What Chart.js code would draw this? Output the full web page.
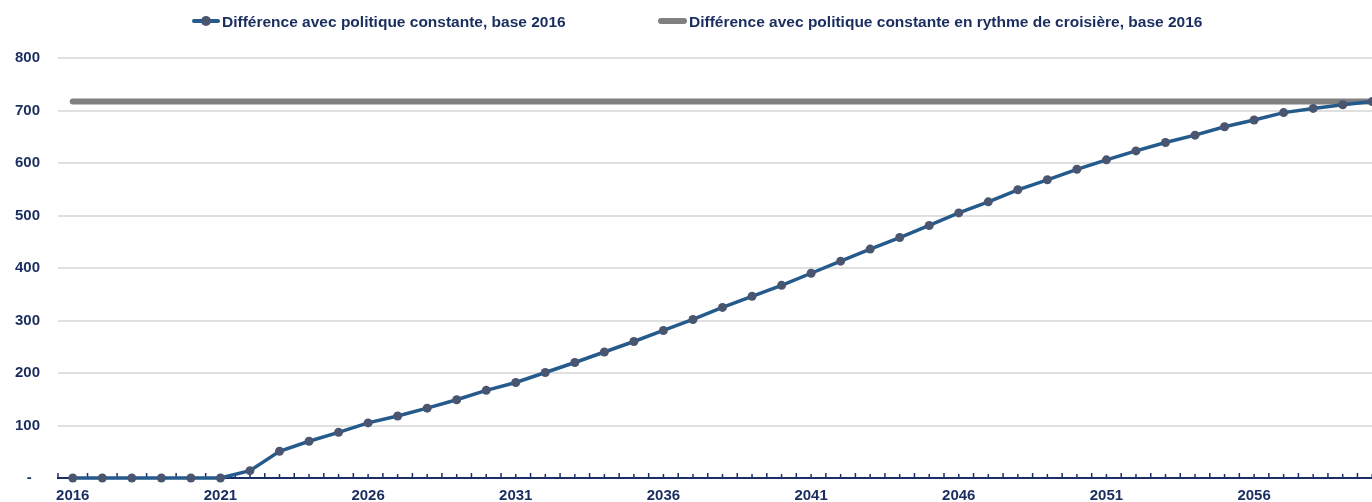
<!DOCTYPE html>
<html>
<head>
<meta charset="utf-8">
<script src="https://cdn.jsdelivr.net/npm/chart.js@4.4.1/dist/chart.umd.min.js"></script>
<style>
  html, body { margin: 0; padding: 0; overflow: hidden; background: #ffffff; width: 1372px; height: 502px; }
  #wrap { position: absolute; left: 0; top: 0; width: 1400px; height: 520px; }
  .leg { position: absolute; top: 13px; font: bold 15.5px "Liberation Sans", Arial, sans-serif; color: #1a2d5f; white-space: nowrap; line-height: 18px; }
  .sample { position: absolute; }
</style>
</head>
<body>
<div id="wrap"><canvas id="c"></canvas></div>
<div class="sample" style="left:192px; top:19px; width:28px; height:3.5px; background:#255a8c; border-radius:2px;"></div>
<div class="sample" style="left:201px; top:16px; width:10px; height:10px; background:#4a5670; border-radius:50%;"></div>
<div class="leg" style="left:222px;">Différence avec politique constante, base 2016</div>
<div class="sample" style="left:658px; top:17.5px; width:29px; height:6px; background:#808080; border-radius:3px;"></div>
<div class="leg" style="left:689px;">Différence avec politique constante en rythme de croisière, base 2016</div>
<script>
const years = [2016, 2017, 2018, 2019, 2020, 2021, 2022, 2023, 2024, 2025,
               2026, 2027, 2028, 2029, 2030, 2031, 2032, 2033, 2034, 2035,
               2036, 2037, 2038, 2039, 2040, 2041, 2042, 2043, 2044, 2045,
               2046, 2047, 2048, 2049, 2050, 2051, 2052, 2053, 2054, 2055,
               2056, 2057, 2058, 2059, 2060];
const diffConstante = [0, 0, 0, 0, 0, 0, 14, 51, 70, 87,
                       105, 118, 133, 149, 167, 182, 201, 220, 240, 260,
                       281, 302, 325, 346, 367, 390, 413, 436, 458, 481,
                       505, 526, 549, 568, 588, 606, 623, 639, 653, 669,
                       682, 696, 704, 711, 717];
const diffCroisiere = [717, 717, 717, 717, 717, 717, 717, 717, 717, 717,
                       717, 717, 717, 717, 717, 717, 717, 717, 717, 717,
                       717, 717, 717, 717, 717, 717, 717, 717, 717, 717,
                       717, 717, 717, 717, 717, 717, 717, 717, 717, 717,
                       717, 717, 717, 717, 717];
const xTickLabels = ['2016', '2021', '2026', '2031', '2036', '2041', '2046', '2051', '2056'];
const yTickLabels = { 0: '-  ', 100: '100', 200: '200', 300: '300', 400: '400', 500: '500', 600: '600', 700: '700', 800: '800' };
const seriesNames = ['Différence avec politique constante, base 2016',
                     'Différence avec politique constante en rythme de croisière, base 2016'];

const navy = '#1a2d5f';
const axisNavy = '#1b2f66';
const fontFamily = '"Liberation Sans", Arial, sans-serif';

const tickMarks = {
  id: 'tickMarks',
  beforeDatasetsDraw(chart) {
    const xs = chart.scales.x;
    const ctx = chart.ctx;
    const yAxis = chart.chartArea.bottom;
    const step = xs.getPixelForValue(1) - xs.getPixelForValue(0);
    ctx.save();
    ctx.strokeStyle = axisNavy;
    ctx.lineWidth = 1.5;
    ctx.beginPath();
    for (let i = 0; i < years.length; i++) {
      const c = xs.getPixelForValue(i);
      const b = c - step / 2;
      ctx.moveTo(b, yAxis); ctx.lineTo(b, yAxis - 5);
      ctx.moveTo(c, yAxis); ctx.lineTo(c, yAxis - 4);
    }
    const last = xs.getPixelForValue(years.length - 1) + step / 2;
    ctx.moveTo(last, yAxis); ctx.lineTo(last, yAxis - 5);
    ctx.stroke();
    ctx.restore();
  }
};

new Chart(document.getElementById('c'), {
  type: 'line',
  data: {
    labels: years.map(String),
    datasets: [
      {
        label: seriesNames[0],
        data: diffConstante,
        borderColor: '#255a8c',
        borderWidth: 3.5,
        pointRadius: 4.5,
        pointBackgroundColor: '#4a5670',
        pointBorderColor: '#4a5670',
        pointBorderWidth: 0,
        tension: 0,
        clip: false
      },
      {
        label: seriesNames[1],
        data: diffCroisiere,
        borderColor: '#808080',
        borderWidth: 6,
        borderCapStyle: 'round',
        pointRadius: 0,
        tension: 0,
        clip: false
      }
    ]
  },
  options: {
    responsive: true,
    maintainAspectRatio: false,
    animation: false,
    layout: { padding: { left: 0, right: 13, top: 58, bottom: 12 } },
    plugins: {
      legend: { display: false },
      tooltip: { enabled: false }
    },
    scales: {
      x: {
        type: 'category',
        offset: true,
        afterFit(scale) { scale.height = 30; },
        grid: { display: false, drawTicks: false },
        border: { display: true, color: axisNavy, width: 2 },
        ticks: {
          autoSkip: false,
          maxRotation: 0,
          minRotation: 0,
          padding: 9,
          color: navy,
          font: { family: fontFamily, size: 15, weight: 'bold' },
          callback(value, index) {
            const lab = String(years[index]);
            return xTickLabels.includes(lab) ? lab : '';
          }
        }
      },
      y: {
        min: 0,
        max: 800,
        afterFit(scale) { scale.width = 58; },
        grid: { color: '#e0e0e0', lineWidth: 2, drawTicks: false },
        border: { display: false },
        ticks: {
          stepSize: 100,
          padding: 18,
          color: navy,
          font: { family: fontFamily, size: 15, weight: 'bold' },
          callback(value) { return yTickLabels[value] !== undefined ? yTickLabels[value] : ''; }
        }
      }
    }
  },
  plugins: [tickMarks]
});
</script>
</body>
</html>
